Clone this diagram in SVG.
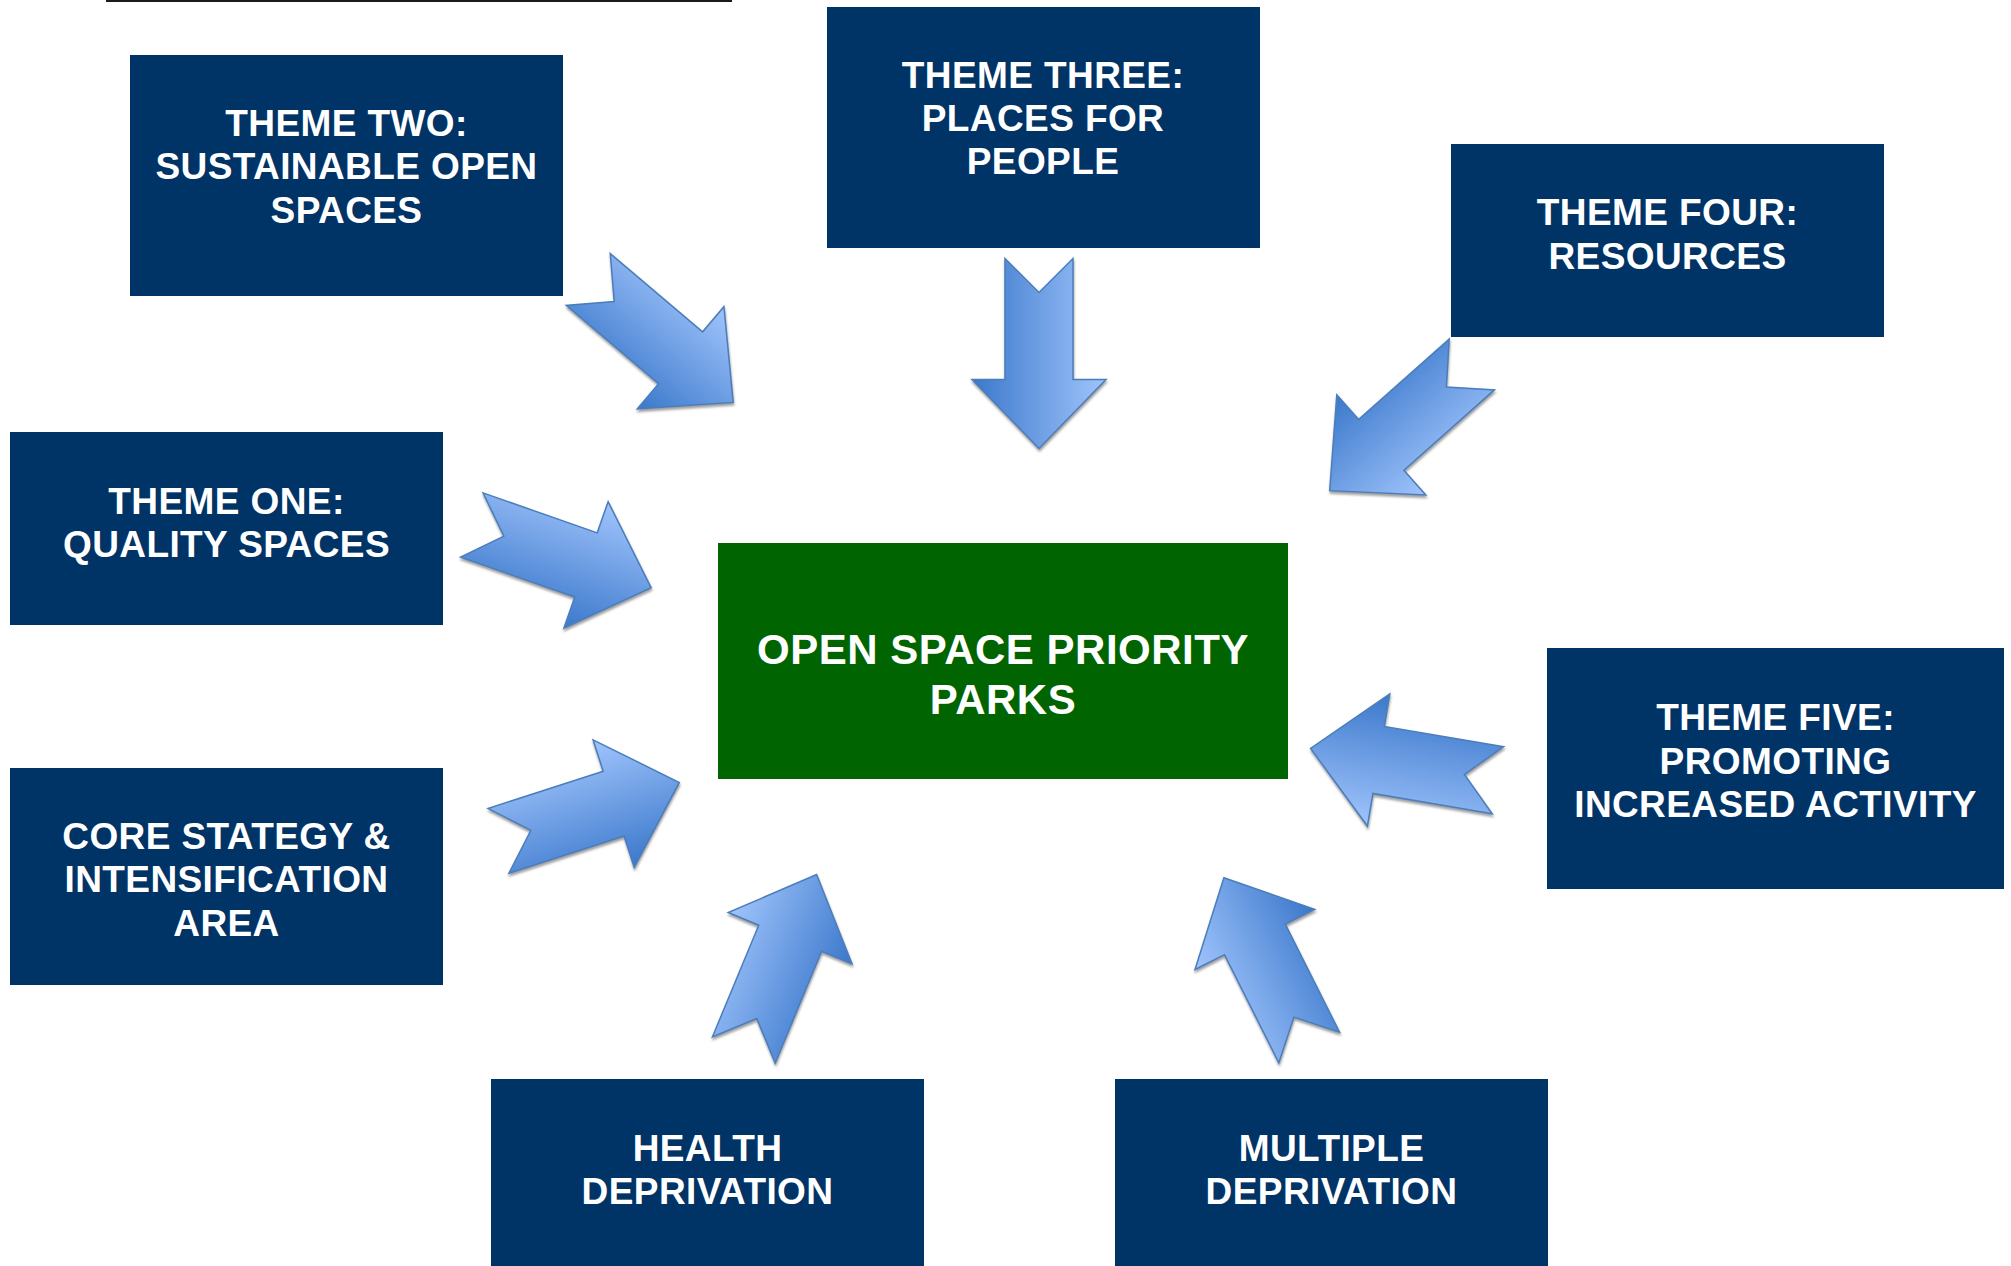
<svg xmlns="http://www.w3.org/2000/svg" width="2011" height="1266" viewBox="0 0 2011 1266">
<defs>
<style>
.box{fill:#003366}
.green{fill:#006400}
.t{font-family:"Liberation Sans",Arial,sans-serif;font-weight:bold;font-size:37px;letter-spacing:0.4px;fill:#ffffff;text-anchor:middle}
.tg{font-size:42px;letter-spacing:0.5px}
.arrow{fill:url(#ag);stroke:#4a7ebb;stroke-width:1.5;stroke-linejoin:miter}
</style>
<linearGradient id="ag" x1="0" y1="0" x2="0" y2="1">
<stop offset="0" stop-color="#a0c4fc"/>
<stop offset="1" stop-color="#3b78cb"/>
</linearGradient>
<filter id="sh" x="-10%" y="-10%" width="120%" height="130%">
<feDropShadow dx="0.5" dy="2.5" stdDeviation="0.8" flood-color="#7f7f7f" flood-opacity="0.75"/>
</filter>
<polygon id="arr" class="arrow" points="0,-34 121,-34 121,-67 190,0 121,67 121,34 0,34 34,0"/>
</defs>
<rect x="106" y="0" width="626" height="2" fill="#1a1a1a"/>
<g id="connectors">
<g filter="url(#sh)"><use href="#arr" transform="translate(588.3,279.5) rotate(40.3)"/></g>
<g filter="url(#sh)"><use href="#arr" transform="translate(1039,258.5) rotate(90)"/></g>
<g filter="url(#sh)"><use href="#arr" transform="translate(1471.8,364.5) rotate(138.4)"/></g>
<g filter="url(#sh)"><use href="#arr" transform="translate(471.8,525) rotate(19.27)"/></g>
<g filter="url(#sh)"><use href="#arr" transform="translate(498.5,840.8) rotate(-17.88)"/></g>
<g filter="url(#sh)"><use href="#arr" transform="translate(1497.9,780.2) rotate(-170.37)"/></g>
<g filter="url(#sh)"><use href="#arr" transform="translate(743.8,1050) rotate(-67.47)"/></g>
<g filter="url(#sh)"><use href="#arr" transform="translate(1309.2,1047.5) rotate(-116.67)"/></g>
</g>
<g id="theme-two">
<rect class="box" x="130" y="55" width="433" height="241"/>
<text class="t" x="346.5" y="136">THEME TWO:</text>
<text class="t" x="346.5" y="179">SUSTAINABLE OPEN</text>
<text class="t" x="346.5" y="223">SPACES</text>
</g>
<g id="theme-three">
<rect class="box" x="827" y="7" width="433" height="241"/>
<text class="t" x="1043" y="88">THEME THREE:</text>
<text class="t" x="1043" y="131">PLACES FOR</text>
<text class="t" x="1043" y="174">PEOPLE</text>
</g>
<g id="theme-four">
<rect class="box" x="1451" y="144" width="433" height="193"/>
<text class="t" x="1667.5" y="225">THEME FOUR:</text>
<text class="t" x="1667.5" y="269">RESOURCES</text>
</g>
<g id="theme-one">
<rect class="box" x="10" y="432" width="433" height="193"/>
<text class="t" x="226.5" y="514">THEME ONE:</text>
<text class="t" x="226.5" y="557">QUALITY SPACES</text>
</g>
<g id="core-strategy">
<rect class="box" x="10" y="768" width="433" height="217"/>
<text class="t" x="226.5" y="848.5">CORE STATEGY &amp;</text>
<text class="t" x="226.5" y="892">INTENSIFICATION</text>
<text class="t" x="226.5" y="936">AREA</text>
</g>
<g id="priority-parks">
<rect class="green" x="718" y="543" width="570" height="236"/>
<text class="t tg" x="1003" y="664">OPEN SPACE PRIORITY</text>
<text class="t tg" x="1003" y="714">PARKS</text>
</g>
<g id="theme-five">
<rect class="box" x="1547" y="648" width="457" height="241"/>
<text class="t" x="1775.5" y="730">THEME FIVE:</text>
<text class="t" x="1775.5" y="773.5">PROMOTING</text>
<text class="t" x="1775.5" y="817">INCREASED ACTIVITY</text>
</g>
<g id="health-deprivation">
<rect class="box" x="491" y="1079" width="433" height="190"/>
<text class="t" x="707.5" y="1161">HEALTH</text>
<text class="t" x="707.5" y="1204">DEPRIVATION</text>
</g>
<g id="multiple-deprivation">
<rect class="box" x="1115" y="1079" width="433" height="190"/>
<text class="t" x="1331.5" y="1161">MULTIPLE</text>
<text class="t" x="1331.5" y="1204">DEPRIVATION</text>
</g>
</svg>
